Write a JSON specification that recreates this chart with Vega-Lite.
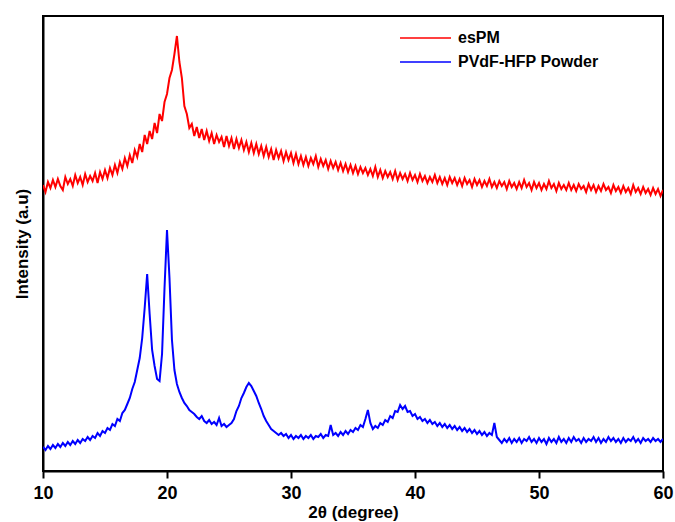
{
  "$schema": "https://vega.github.io/schema/vega-lite/v6.json",
  "width": 620,
  "height": 455,
  "autosize": {"type": "none"},
  "padding": {"left": 43, "top": 16, "right": 12, "bottom": 51},
  "background": "white",
  "config": {
    "view": {"stroke": "black", "strokeWidth": 2},
    "font": "Liberation Sans"
  },
  "data": {"values": [
{"t":10.0,"r":281,"b":19},{"t":10.2,"r":274,"b":16},{"t":10.4,"r":284,"b":20},{"t":10.6,"r":278,"b":17},{"t":10.8,"r":286,"b":21},
{"t":11.0,"r":279,"b":18},{"t":11.2,"r":287,"b":22},{"t":11.4,"r":280,"b":19},{"t":11.6,"r":276,"b":23},{"t":11.8,"r":289,"b":20},
{"t":12.0,"r":282,"b":24},{"t":12.2,"r":287,"b":21},{"t":12.4,"r":280,"b":25},{"t":12.6,"r":291,"b":22},{"t":12.8,"r":283,"b":26},
{"t":13.0,"r":289,"b":23},{"t":13.2,"r":281,"b":27},{"t":13.4,"r":292,"b":25},{"t":13.6,"r":284,"b":29},{"t":13.8,"r":290,"b":26},
{"t":14.0,"r":285,"b":30},{"t":14.2,"r":293,"b":28},{"t":14.4,"r":283,"b":33},{"t":14.6,"r":294,"b":30},{"t":14.8,"r":287,"b":35},
{"t":15.0,"r":296,"b":33},{"t":15.2,"r":288,"b":38},{"t":15.4,"r":298,"b":36},{"t":15.6,"r":291,"b":42},{"t":15.8,"r":301,"b":40},
{"t":16.0,"r":293,"b":47},{"t":16.2,"r":304,"b":45},{"t":16.4,"r":297,"b":53},{"t":16.6,"r":308,"b":56},{"t":16.8,"r":300,"b":62},
{"t":17.0,"r":311,"b":68},{"t":17.2,"r":303,"b":77},{"t":17.4,"r":316,"b":84},{"t":17.6,"r":309,"b":96},{"t":17.8,"r":322,"b":108},
{"t":18.0,"r":314,"b":128},{"t":18.2,"r":331,"b":158},{"t":18.4,"r":322,"b":192},{"t":18.6,"r":335,"b":152},{"t":18.8,"r":327,"b":116},
{"t":19.0,"r":343,"b":100},{"t":19.2,"r":333,"b":87},{"t":19.4,"r":352,"b":85},{"t":19.6,"r":345,"b":112},{"t":19.8,"r":364,"b":178},
{"t":20.0,"r":372,"b":236},{"t":20.2,"r":388,"b":188},{"t":20.4,"r":396,"b":126},{"t":20.6,"r":412,"b":96},{"t":20.8,"r":430,"b":82},
{"t":21.0,"r":404,"b":74},{"t":21.2,"r":388,"b":68},{"t":21.4,"r":360,"b":63},{"t":21.6,"r":352,"b":60},{"t":21.8,"r":338,"b":56},
{"t":22.0,"r":342,"b":54},{"t":22.2,"r":330,"b":52},{"t":22.4,"r":339,"b":49},{"t":22.6,"r":328,"b":47},{"t":22.8,"r":337,"b":50},
{"t":23.0,"r":326,"b":45},{"t":23.2,"r":335,"b":43},{"t":23.4,"r":325,"b":46},{"t":23.6,"r":333,"b":42},{"t":23.8,"r":322,"b":44},
{"t":24.0,"r":331,"b":41},{"t":24.2,"r":324,"b":48},{"t":24.4,"r":329,"b":40},{"t":24.6,"r":319,"b":42},{"t":24.8,"r":330,"b":39},
{"t":25.0,"r":320,"b":41},{"t":25.2,"r":328,"b":43},{"t":25.4,"r":317,"b":47},{"t":25.6,"r":327,"b":55},{"t":25.8,"r":318,"b":60},
{"t":26.0,"r":326,"b":68},{"t":26.2,"r":316,"b":73},{"t":26.4,"r":324,"b":79},{"t":26.6,"r":314,"b":83},{"t":26.8,"r":323,"b":80},
{"t":27.0,"r":313,"b":75},{"t":27.2,"r":322,"b":70},{"t":27.4,"r":312,"b":63},{"t":27.6,"r":320,"b":57},{"t":27.8,"r":310,"b":50},
{"t":28.0,"r":319,"b":45},{"t":28.2,"r":309,"b":41},{"t":28.4,"r":317,"b":37},{"t":28.6,"r":306,"b":35},{"t":28.8,"r":316,"b":33},
{"t":29.0,"r":308,"b":31},{"t":29.2,"r":315,"b":33},{"t":29.4,"r":305,"b":30},{"t":29.6,"r":314,"b":32},{"t":29.8,"r":306,"b":28},
{"t":30.0,"r":313,"b":31},{"t":30.2,"r":303,"b":27},{"t":30.4,"r":312,"b":30},{"t":30.6,"r":302,"b":28},{"t":30.8,"r":310,"b":31},
{"t":31.0,"r":301,"b":27},{"t":31.2,"r":309,"b":30},{"t":31.4,"r":300,"b":28},{"t":31.6,"r":308,"b":31},{"t":31.8,"r":302,"b":27},
{"t":32.0,"r":310,"b":30},{"t":32.2,"r":299,"b":29},{"t":32.4,"r":307,"b":32},{"t":32.6,"r":300,"b":28},{"t":32.8,"r":306,"b":31},
{"t":33.0,"r":297,"b":30},{"t":33.2,"r":305,"b":41},{"t":33.4,"r":298,"b":31},{"t":33.6,"r":304,"b":33},{"t":33.8,"r":296,"b":30},
{"t":34.0,"r":303,"b":34},{"t":34.2,"r":295,"b":31},{"t":34.4,"r":302,"b":35},{"t":34.6,"r":294,"b":32},{"t":34.8,"r":301,"b":36},
{"t":35.0,"r":293,"b":34},{"t":35.2,"r":300,"b":38},{"t":35.4,"r":292,"b":36},{"t":35.6,"r":299,"b":41},{"t":35.8,"r":293,"b":39},
{"t":36.0,"r":298,"b":47},{"t":36.2,"r":291,"b":56},{"t":36.4,"r":297,"b":43},{"t":36.6,"r":290,"b":37},{"t":36.8,"r":299,"b":40},
{"t":37.0,"r":289,"b":38},{"t":37.2,"r":296,"b":43},{"t":37.4,"r":288,"b":41},{"t":37.6,"r":295,"b":46},{"t":37.8,"r":289,"b":44},
{"t":38.0,"r":294,"b":50},{"t":38.2,"r":287,"b":48},{"t":38.4,"r":295,"b":55},{"t":38.6,"r":286,"b":54},{"t":38.8,"r":293,"b":61},
{"t":39.0,"r":287,"b":57},{"t":39.2,"r":292,"b":60},{"t":39.4,"r":285,"b":54},{"t":39.6,"r":293,"b":55},{"t":39.8,"r":286,"b":50},
{"t":40.0,"r":291,"b":52},{"t":40.2,"r":284,"b":47},{"t":40.4,"r":292,"b":49},{"t":40.6,"r":285,"b":45},{"t":40.8,"r":290,"b":47},
{"t":41.0,"r":283,"b":43},{"t":41.2,"r":289,"b":46},{"t":41.4,"r":284,"b":42},{"t":41.6,"r":291,"b":44},{"t":41.8,"r":283,"b":40},
{"t":42.0,"r":289,"b":43},{"t":42.2,"r":282,"b":39},{"t":42.4,"r":288,"b":42},{"t":42.6,"r":281,"b":38},{"t":42.8,"r":289,"b":41},
{"t":43.0,"r":283,"b":37},{"t":43.2,"r":288,"b":40},{"t":43.4,"r":281,"b":36},{"t":43.6,"r":287,"b":39},{"t":43.8,"r":280,"b":35},
{"t":44.0,"r":288,"b":38},{"t":44.2,"r":282,"b":34},{"t":44.4,"r":286,"b":37},{"t":44.6,"r":279,"b":33},{"t":44.8,"r":287,"b":36},
{"t":45.0,"r":281,"b":32},{"t":45.2,"r":286,"b":35},{"t":45.4,"r":279,"b":31},{"t":45.6,"r":285,"b":34},{"t":45.8,"r":280,"b":30},
{"t":46.0,"r":287,"b":33},{"t":46.2,"r":279,"b":31},{"t":46.4,"r":284,"b":43},{"t":46.6,"r":278,"b":29},{"t":46.8,"r":285,"b":26},
{"t":47.0,"r":280,"b":23},{"t":47.2,"r":284,"b":27},{"t":47.4,"r":277,"b":24},{"t":47.6,"r":285,"b":28},{"t":47.8,"r":279,"b":23},
{"t":48.0,"r":283,"b":27},{"t":48.2,"r":277,"b":24},{"t":48.4,"r":284,"b":28},{"t":48.6,"r":278,"b":23},{"t":48.8,"r":286,"b":27},
{"t":49.0,"r":279,"b":25},{"t":49.2,"r":283,"b":29},{"t":49.4,"r":276,"b":24},{"t":49.6,"r":284,"b":27},{"t":49.8,"r":278,"b":23},
{"t":50.0,"r":283,"b":28},{"t":50.2,"r":276,"b":24},{"t":50.4,"r":282,"b":27},{"t":50.6,"r":277,"b":22},{"t":50.8,"r":285,"b":28},
{"t":51.0,"r":278,"b":24},{"t":51.2,"r":282,"b":27},{"t":51.4,"r":275,"b":23},{"t":51.6,"r":283,"b":29},{"t":51.8,"r":277,"b":24},
{"t":52.0,"r":281,"b":27},{"t":52.2,"r":276,"b":23},{"t":52.4,"r":283,"b":28},{"t":52.6,"r":276,"b":24},{"t":52.8,"r":281,"b":29},
{"t":53.0,"r":275,"b":25},{"t":53.2,"r":282,"b":27},{"t":53.4,"r":277,"b":23},{"t":53.6,"r":280,"b":28},{"t":53.8,"r":274,"b":24},
{"t":54.0,"r":282,"b":27},{"t":54.2,"r":276,"b":25},{"t":54.4,"r":281,"b":29},{"t":54.6,"r":274,"b":24},{"t":54.8,"r":280,"b":28},
{"t":55.0,"r":275,"b":23},{"t":55.2,"r":282,"b":27},{"t":55.4,"r":276,"b":24},{"t":55.6,"r":279,"b":29},{"t":55.8,"r":273,"b":25},
{"t":56.0,"r":281,"b":28},{"t":56.2,"r":275,"b":24},{"t":56.4,"r":279,"b":27},{"t":56.6,"r":273,"b":23},{"t":56.8,"r":280,"b":28},
{"t":57.0,"r":274,"b":24},{"t":57.2,"r":278,"b":27},{"t":57.4,"r":272,"b":25},{"t":57.6,"r":281,"b":29},{"t":57.8,"r":274,"b":24},
{"t":58.0,"r":278,"b":27},{"t":58.2,"r":272,"b":23},{"t":58.4,"r":279,"b":28},{"t":58.6,"r":273,"b":25},{"t":58.8,"r":277,"b":27},
{"t":59.0,"r":271,"b":24},{"t":59.2,"r":278,"b":28},{"t":59.4,"r":272,"b":25},{"t":59.6,"r":277,"b":27},{"t":59.8,"r":270,"b":24},
{"t":60.0,"r":276,"b":27}
  ]},
  "transform": [{"fold": ["r", "b"], "as": ["series", "intensity"]}],
  "mark": {"type": "line", "strokeWidth": 2, "clip": true},
  "encoding": {
    "x": {
      "field": "t", "type": "quantitative",
      "scale": {"domain": [10, 60], "nice": false, "zero": false},
      "axis": {
        "values": [10, 20, 30, 40, 50, 60],
        "title": "2θ (degree)",
        "titleFont": "Liberation Sans", "titleFontSize": 17, "titleFontWeight": "bold", "titleColor": "black",
        "titlePadding": 2,
        "labelFont": "Liberation Sans", "labelFontSize": 18, "labelFontWeight": "bold", "labelColor": "black",
        "labelPadding": 6,
        "tickSize": 7, "tickWidth": 2, "tickColor": "black",
        "domainColor": "black", "domainWidth": 2,
        "grid": false, "labelFlush": false
      }
    },
    "y": {
      "field": "intensity", "type": "quantitative",
      "scale": {"domain": [-5, 450], "nice": false, "zero": false},
      "axis": {
        "title": "Intensity (a.u)",
        "titleFont": "Liberation Sans", "titleFontSize": 17, "titleFontWeight": "bold", "titleColor": "black",
        "titlePadding": 12,
        "labels": false, "ticks": false, "grid": false,
        "domainColor": "black", "domainWidth": 2
      }
    },
    "color": {
      "field": "series", "type": "nominal",
      "scale": {"domain": ["r", "b"], "range": ["#ff0000", "#0000ff"]},
      "legend": {
        "title": null,
        "orient": "none",
        "legendX": 356,
        "legendY": 11,
        "symbolType": "stroke",
        "symbolSize": 2601,
        "symbolStrokeWidth": 1.6,
        "clipHeight": 22,
        "labelExpr": "datum.label == 'r' ? 'esPM' : 'PVdF-HFP Powder'",
        "labelFont": "Liberation Sans", "labelFontSize": 16, "labelFontWeight": "bold", "labelColor": "black",
        "labelOffset": 6,
        "rowPadding": 2
      }
    }
  }
}
